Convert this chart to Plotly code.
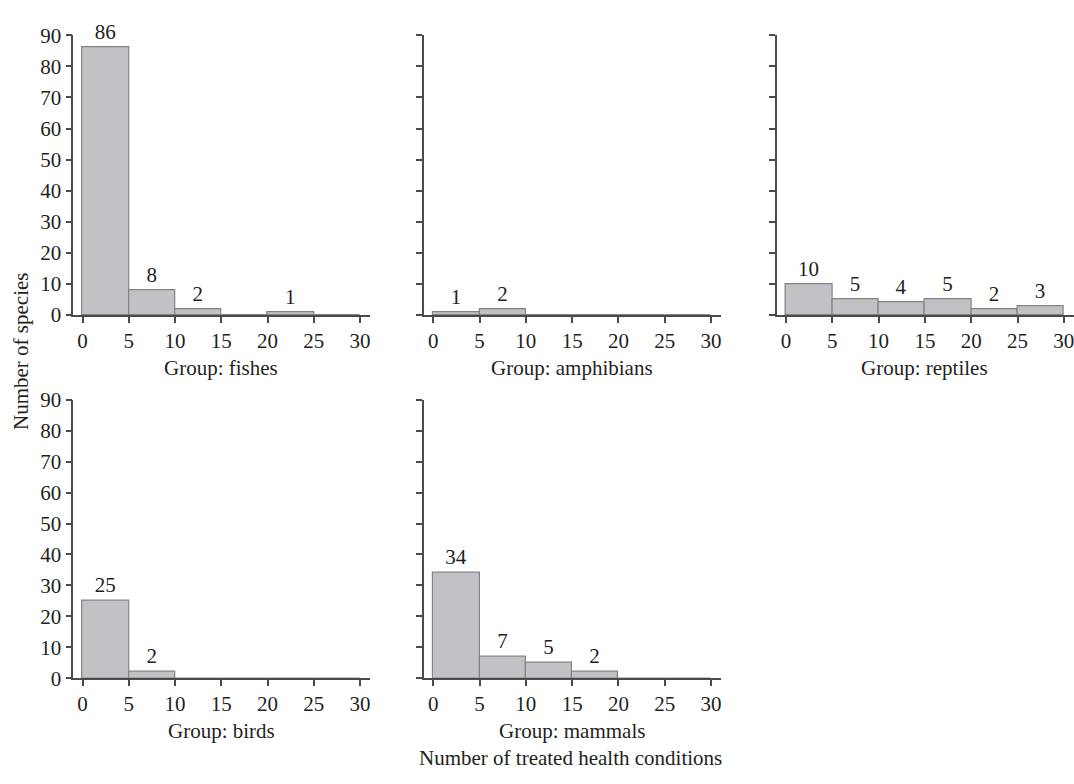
import plotly.graph_objects as go

# Data: histogram bins (width 5) of number of treated health conditions
bin_centers = [2.5, 7.5, 12.5, 17.5, 22.5, 27.5]
fishes = [86, 8, 2, 0, 1, 0]
amphibians = [1, 2, 0, 0, 0, 0]
reptiles = [10, 5, 4, 5, 2, 3]
birds = [25, 2, 0, 0, 0, 0]
mammals = [34, 7, 5, 2, 0, 0]
group_names = ["fishes", "amphibians", "reptiles", "birds", "mammals"]
x_ticks = [0, 5, 10, 15, 20, 25, 30]
y_ticks = [0, 10, 20, 30, 40, 50, 60, 70, 80, 90]

series = [fishes, amphibians, reptiles, birds, mammals]

W, H = 1074, 784
FONT = "Liberation Serif"
TXT = "#231f20"
AX = "#4a4a4a"
FS = 21

# pixel domains
xdom_px = [(73.3, 370.3), (424, 721.2), (776.7, 1074)]
ydom_px = [(24, 312.7), (400, 687.3)]
XR = [-1, 31.1]

def xd(p):
    return [p[0] / W, min(p[1] / W, 1.0)]

def yd(p):
    return [1 - p[1] / H, 1 - p[0] / H]

positions = [(0, 0), (0, 1), (0, 2), (1, 0), (1, 1)]

fig = go.Figure()
layout = dict(
    width=W, height=H,
    margin=dict(l=0, r=0, t=0, b=0),
    paper_bgcolor="white", plot_bgcolor="white",
    showlegend=False,
    font=dict(family=FONT, size=FS, color=TXT),
    bargap=0,
)
annotations = []

for i, (vals, name) in enumerate(zip(series, group_names)):
    r, c = positions[i]
    k = "" if i == 0 else str(i + 1)
    fig.add_trace(go.Bar(
        x=bin_centers, y=vals, width=5,
        marker=dict(color="#c1c2c6", line=dict(color="#838383", width=1.2)),
        text=[str(v) if v > 0 else "" for v in vals],
        textposition="outside",
        textfont=dict(family=FONT, size=FS, color=TXT),
        constraintext="none",
        cliponaxis=False,
        xaxis="x" + k, yaxis="y" + k,
        hoverinfo="skip",
    ))
    layout["xaxis" + k] = dict(
        domain=xd(xdom_px[c]), anchor="y" + k,
        range=XR, tickvals=x_ticks, ticks="outside", ticklen=6,
        tickwidth=1.5, tickcolor=AX, showline=True, linecolor=AX, linewidth=1.5,
        showgrid=False, zeroline=False, fixedrange=True,
        ticklabeloverflow="allow",
        tickfont=dict(family=FONT, size=FS, color=TXT),
    )
    layout["yaxis" + k] = dict(
        domain=yd(ydom_px[r]), anchor="x" + k,
        range=[0, 90], tickvals=y_ticks, ticks="outside", ticklen=6,
        tickwidth=1.5, tickcolor=AX, showline=True, linecolor=AX, linewidth=1.5,
        showgrid=False, zeroline=False, fixedrange=True,
        showticklabels=(c == 0),
        tickfont=dict(family=FONT, size=FS, color=TXT),
    )
    # group title under each panel, centred on x = 15
    annotations.append(dict(
        text="Group: " + name, x=15, xref="x" + k,
        y=1 - (ydom_px[r][1] + 54.4) / H, yref="paper",
        showarrow=False, xanchor="center", yanchor="middle",
        font=dict(family=FONT, size=FS, color=TXT),
    ))

annotations += [
    dict(text="Number of species", textangle=-90, x=21.7 / W, y=1 - 350 / H,
         xref="paper", yref="paper", showarrow=False,
         xanchor="center", yanchor="middle",
         font=dict(family=FONT, size=FS, color=TXT)),
    dict(text="Number of treated health conditions", x=570 / W, y=1 - 770 / H,
         xref="paper", yref="paper", showarrow=False,
         xanchor="center", yanchor="middle",
         font=dict(family=FONT, size=FS, color=TXT)),
]
layout["annotations"] = annotations

fig.update_layout(**layout)
fig.write_html(
    "out.html",
    config={"displayModeBar": False},
    post_script="document.body.style.margin='0';document.body.style.padding='0';",
)
